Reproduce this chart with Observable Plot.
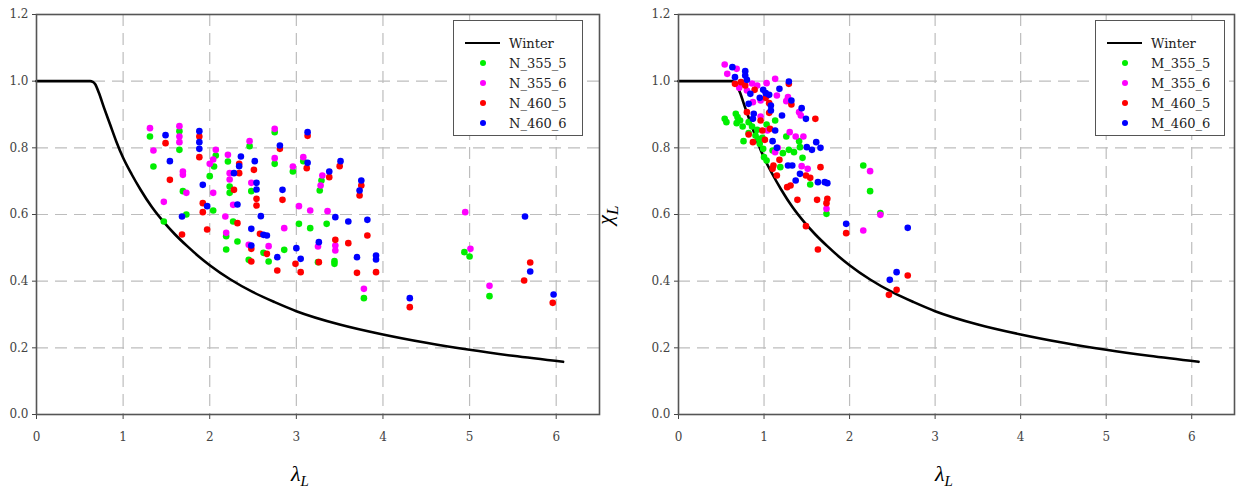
<!DOCTYPE html>
<html>
<head>
<meta charset="utf-8">
<script src="https://cdn.jsdelivr.net/npm/d3@7"></script>
<script src="https://cdn.jsdelivr.net/npm/@observablehq/plot@0.6"></script>
<style>
  body { margin: 0; background: white; }
  #wrap { position: relative; width: 1246px; height: 488px; overflow: hidden; font-family: "DejaVu Serif", "Liberation Serif", serif; }
  .panel { position: absolute; top: 0; }
  .legend { position: absolute; top: 20px; width: 128px; height: 114px; border: 1px solid #555; background: white; font-size: 13px; color: #222; }
  .row { position: absolute; left: 0; height: 16px; display: flex; align-items: center; }
  .sym { position: relative; width: 55px; height: 16px; }
  .sym .ln { position: absolute; left: 11px; top: 7px; width: 35px; height: 2.2px; background: black; }
  .sym .dt { position: absolute; left: 26px; top: 5px; width: 6px; height: 6px; border-radius: 50%; }
  .xl { position: absolute; top: 461px; font-size: 22px; font-style: italic; transform: translateX(-50%); font-family: "Liberation Serif", serif; }
  .yl { position: absolute; font-size: 22px; font-style: italic; transform: rotate(-90deg); transform-origin: center; font-family: "Liberation Serif", serif; }
</style>
</head>
<body>
<div id="wrap"></div>
<script>
// Winter reference curve
const winterX = [0, 0.62, 0.65, 0.68, 0.72, 0.78, 0.85, 0.92, 1.0, 1.1, 1.2, 1.33, 1.47, 1.6, 1.74, 1.87, 2.0, 2.24, 2.5, 2.75, 3.0, 3.5, 4.0, 4.5, 5.0, 5.5, 6.08];
const winterY = [1.0, 1.0, 0.998, 0.99, 0.965, 0.92, 0.87, 0.82, 0.77, 0.72, 0.675, 0.623, 0.577, 0.54, 0.505, 0.475, 0.448, 0.405, 0.367, 0.337, 0.31, 0.27, 0.24, 0.215, 0.194, 0.176, 0.158];

// Left panel series
const N_355_5 = [[1.31,0.834],[1.35,0.744],[1.47,0.579],[1.65,0.850],[1.65,0.794],[1.69,0.670],[1.73,0.600],[2.07,0.777],[2.05,0.744],[2.0,0.715],[2.04,0.612],[2.21,0.759],[2.23,0.684],[2.23,0.665],[2.27,0.579],[2.19,0.535],[2.19,0.495],[2.32,0.519],[2.46,0.805],[2.48,0.670],[2.62,0.485],[2.45,0.464],[2.68,0.459],[2.86,0.494],[2.75,0.847],[2.75,0.752],[3.08,0.76],[2.96,0.729],[3.29,0.702],[3.27,0.672],[3.03,0.572],[3.16,0.559],[3.35,0.572],[3.25,0.457],[3.44,0.46],[3.44,0.452],[3.78,0.349],[4.94,0.487],[5.0,0.474],[5.23,0.355]];
const N_355_6 = [[1.31,0.859],[1.35,0.792],[1.47,0.638],[1.65,0.865],[1.65,0.834],[1.65,0.817],[1.69,0.729],[1.69,0.719],[1.73,0.665],[2.07,0.794],[2.04,0.765],[2.0,0.752],[2.04,0.665],[2.21,0.779],[2.23,0.724],[2.23,0.705],[2.18,0.594],[2.19,0.545],[2.27,0.629],[2.46,0.820],[2.48,0.695],[2.45,0.509],[2.68,0.505],[2.86,0.559],[2.75,0.857],[2.75,0.769],[3.08,0.772],[2.96,0.744],[3.30,0.717],[3.28,0.687],[3.03,0.625],[3.16,0.612],[3.36,0.610],[3.25,0.504],[3.45,0.507],[3.45,0.492],[3.78,0.377],[4.95,0.607],[5.01,0.497],[5.23,0.386]];
const N_460_5 = [[1.49,0.814],[1.54,0.704],[1.68,0.540],[1.88,0.834],[1.88,0.772],[1.92,0.634],[1.92,0.607],[1.97,0.555],[2.28,0.674],[2.32,0.574],[2.34,0.752],[2.34,0.724],[2.51,0.734],[2.54,0.647],[2.54,0.627],[2.58,0.542],[2.48,0.497],[2.66,0.482],[2.48,0.459],[2.78,0.432],[2.81,0.797],[2.84,0.644],[3.13,0.836],[3.12,0.739],[3.50,0.745],[3.38,0.712],[3.75,0.687],[3.73,0.657],[3.82,0.537],[3.45,0.524],[3.60,0.514],[2.99,0.452],[3.05,0.427],[3.26,0.457],[3.70,0.425],[3.92,0.427],[4.31,0.322],[5.70,0.456],[5.63,0.402],[5.96,0.335]];
const N_460_6 = [[1.49,0.838],[1.54,0.760],[1.68,0.594],[1.88,0.850],[1.88,0.817],[1.88,0.797],[1.92,0.689],[1.97,0.625],[2.36,0.774],[2.34,0.745],[2.28,0.724],[2.32,0.630],[2.52,0.760],[2.54,0.695],[2.54,0.675],[2.59,0.595],[2.48,0.557],[2.62,0.539],[2.66,0.537],[2.48,0.507],[2.78,0.472],[2.81,0.807],[2.84,0.674],[3.13,0.847],[3.13,0.755],[3.51,0.760],[3.38,0.729],[3.75,0.702],[3.73,0.672],[3.45,0.592],[3.60,0.579],[3.82,0.584],[3.26,0.517],[3.0,0.499],[3.05,0.467],[3.70,0.472],[3.92,0.477],[3.92,0.465],[4.31,0.349],[5.64,0.594],[5.70,0.429],[5.97,0.36]];

// Right panel series
const M_355_5 = [[0.54,0.887],[0.56,0.877],[0.67,0.902],[0.69,0.892],[0.72,0.882],[0.68,0.874],[0.75,0.864],[0.82,0.877],[0.86,0.864],[0.92,0.854],[0.82,0.844],[0.90,0.837],[0.93,0.827],[0.76,0.82],[1.03,0.87],[0.98,0.83],[0.95,0.812],[0.99,0.797],[1.10,0.792],[1.0,0.772],[1.03,0.762],[1.22,0.784],[1.29,0.794],[1.35,0.787],[1.26,0.834],[1.41,0.82],[1.42,0.802],[1.45,0.77],[1.19,0.742],[1.54,0.69],[1.13,0.882],[1.73,0.602],[2.16,0.747],[2.24,0.67],[2.36,0.604]];
const M_355_6 = [[0.54,1.05],[0.68,1.037],[0.57,1.022],[0.76,0.992],[0.86,0.993],[0.92,0.987],[0.71,0.98],[0.80,0.972],[1.03,0.994],[1.13,1.007],[1.15,0.957],[0.87,0.937],[0.96,0.942],[1.26,0.94],[1.28,0.952],[1.41,0.907],[1.43,0.897],[0.96,0.894],[1.04,0.852],[1.30,0.847],[1.37,0.834],[1.46,0.834],[1.16,0.80],[1.13,0.787],[1.44,0.745],[1.51,0.737],[1.73,0.617],[2.24,0.73],[2.36,0.599],[2.16,0.552]];
const M_460_5 = [[0.66,0.992],[0.73,0.997],[0.78,0.987],[0.89,0.974],[1.29,0.992],[1.02,0.95],[1.06,0.934],[1.32,0.93],[1.60,0.887],[0.80,0.907],[0.96,0.882],[1.06,0.905],[0.82,0.84],[0.87,0.817],[0.98,0.852],[1.07,0.857],[1.01,0.824],[1.18,0.764],[1.66,0.742],[1.11,0.747],[1.15,0.717],[1.10,0.737],[1.49,0.717],[1.54,0.71],[1.27,0.682],[1.31,0.687],[1.39,0.644],[1.62,0.644],[1.74,0.647],[1.73,0.634],[1.49,0.565],[1.63,0.495],[1.96,0.544],[2.68,0.417],[2.55,0.374],[2.46,0.359]];
const M_460_6 = [[0.63,1.042],[0.66,1.012],[0.78,1.03],[0.78,1.017],[0.80,1.004],[0.84,0.962],[1.29,0.999],[1.18,0.977],[0.99,0.974],[1.02,0.964],[1.06,0.959],[0.95,0.95],[0.82,0.932],[1.32,0.942],[1.44,0.919],[1.49,0.887],[1.08,0.927],[1.08,0.912],[1.21,0.897],[0.88,0.902],[0.87,0.887],[1.13,0.852],[1.10,0.82],[1.15,0.80],[1.50,0.802],[1.56,0.794],[1.61,0.817],[1.66,0.80],[1.28,0.747],[1.33,0.747],[1.42,0.722],[1.63,0.697],[1.74,0.694],[1.37,0.702],[1.71,0.697],[1.96,0.572],[2.68,0.56],[2.55,0.427],[2.47,0.404]];

const xTicks = [0, 1, 2, 3, 4, 5, 6];
const yTicks = [0, 0.2, 0.4, 0.6, 0.8, 1.0, 1.2];
const seriesColors = ["#00ee00", "#ff00ff", "#ff0000", "#0000ff"];
const tickFont = "DejaVu Serif";

const winter = winterX.map((x, i) => ({x, y: winterY[i]}));

function panel(series, marginLeft, marginRight) {
  const marks = [
    Plot.gridX(xTicks.slice(1), {stroke: "#bdbdbd", strokeOpacity: 1, strokeWidth: 1.2, strokeDasharray: "12,7"}),
    Plot.gridY(yTicks.slice(1, -1), {stroke: "#bdbdbd", strokeOpacity: 1, strokeWidth: 1.2, strokeDasharray: "12,7"}),
    Plot.axisX(xTicks, {tickSize: 5, tickPadding: 13, label: null, tickFormat: d => String(d), fontSize: 12, fill: "#444", fontFamily: tickFont}),
    Plot.axisY(yTicks, {tickSize: 4, tickPadding: 4, label: null, tickFormat: d3.format(".1f"), fontSize: 12, fill: "#444", fontFamily: tickFont}),
    Plot.line(winter, {x: "x", y: "y", stroke: "black", strokeWidth: 2.6, curve: "monotone-x"})
  ];
  series.forEach((s, i) => {
    marks.push(Plot.dot(s, {x: d => d[0], y: d => d[1], r: 3.3, fill: seriesColors[i], stroke: "none"}));
  });
  marks.push(Plot.frame({stroke: "#555", strokeWidth: 1.6}));
  return Plot.plot({
    width: 623, height: 488,
    marginTop: 14, marginBottom: 74, marginLeft, marginRight,
    x: {domain: [0, 6.5]},
    y: {domain: [0, 1.2]},
    style: {fontSize: "12px", color: "#444", background: "white", overflow: "visible"},
    marks
  });
}

function legend(left, names) {
  const box = document.createElement("div");
  box.className = "legend";
  box.style.left = left + "px";
  const rows = [["Winter", null]].concat(names.map((n, i) => [n, seriesColors[i]]));
  rows.forEach(([label, color], i) => {
    const r = document.createElement("div");
    r.className = "row";
    r.style.top = (14 + i * 20) + "px";
    const sym = document.createElement("div");
    sym.className = "sym";
    const m = document.createElement("div");
    if (color) { m.className = "dt"; m.style.background = color; } else { m.className = "ln"; }
    sym.appendChild(m);
    r.appendChild(sym);
    const t = document.createElement("span");
    t.textContent = label;
    r.appendChild(t);
    box.appendChild(r);
  });
  return box;
}

const wrap = document.getElementById("wrap");
const namesN = ["N_355_5", "N_355_6", "N_460_5", "N_460_6"];
const namesM = ["M_355_5", "M_355_6", "M_460_5", "M_460_6"];

const p1 = panel([N_355_5, N_355_6, N_460_5, N_460_6], 36, 24);
p1.classList.add("panel"); p1.style.left = "0px";
wrap.appendChild(p1);
const p2 = panel([M_355_5, M_355_6, M_460_5, M_460_6], 55, 12);
p2.classList.add("panel"); p2.style.left = "623px";
wrap.appendChild(p2);

wrap.appendChild(legend(453, namesN));
wrap.appendChild(legend(1095, namesM));

const xl1 = document.createElement("div"); xl1.className = "xl"; xl1.style.left = "300px";
xl1.innerHTML = "λ<sub style='font-size:15px'>L</sub>";
wrap.appendChild(xl1);
const xl2 = document.createElement("div"); xl2.className = "xl"; xl2.style.left = "944px";
xl2.innerHTML = "λ<sub style='font-size:15px'>L</sub>";
wrap.appendChild(xl2);
const yl = document.createElement("div"); yl.className = "yl";
yl.style.left = "598px"; yl.style.top = "200px";
yl.innerHTML = "χ<sub style='font-size:17px'>L</sub>";
wrap.appendChild(yl);
</script>
</body>
</html>
